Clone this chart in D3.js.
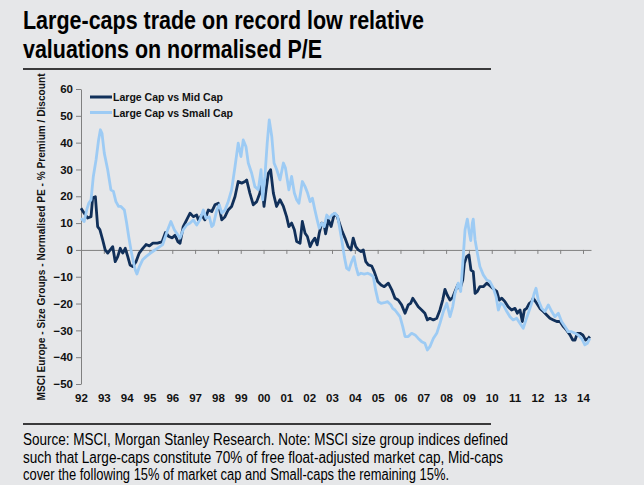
<!DOCTYPE html>
<html><head><meta charset="utf-8">
<script src="https://cdn.jsdelivr.net/npm/d3@7"></script>
<style>
html,body{margin:0;padding:0;background:#e6e7e9;}
svg{display:block;}
text{font-family:"Liberation Sans",Arial,sans-serif;}
</style></head><body>
<svg id="chart" width="644" height="485"></svg>
<script>
// ---------- data ----------
const titleLines = ["Large-caps trade on record low relative", "valuations on normalised P/E"];
const footerLines = [
  "Source: MSCI, Morgan Stanley Research. Note: MSCI size group indices defined",
  "such that Large-caps constitute 70% of free float-adjusted market cap, Mid-caps",
  "cover the following 15% of market cap and Small-caps the remaining 15%."
];
const yAxisTitle = "MSCI Europe - Size Groups - Normalised PE - % Premium / Discount";
const seriesNames = ["Large Cap vs Mid Cap", "Large Cap vs Small Cap"];
const xTickYears = [1992,1993,1994,1995,1996,1997,1998,1999,2000,2001,2002,2003,2004,2005,2006,2007,2008,2009,2010,2011,2012,2013,2014];
const xTickLabels = ["92","93","94","95","96","97","98","99","00","01","02","03","04","05","06","07","08","09","10","11","12","13","14"];
const yTicks = [60,50,40,30,20,10,0,-10,-20,-30,-40,-50];

// Large Cap vs Mid Cap (decimal year, % premium/discount)
const midT = [1992.00,1992.14,1992.29,1992.44,1992.51,1992.63,1992.73,1992.83,1992.95,1993.06,1993.17,1993.28,1993.39,1993.50,1993.61,1993.72,1993.83,1993.94,1994.05,1994.15,1994.27,1994.41,1994.55,1994.70,1994.85,1995.00,1995.15,1995.35,1995.55,1995.70,1995.85,1996.00,1996.12,1996.25,1996.34,1996.48,1996.63,1996.78,1996.92,1997.07,1997.14,1997.29,1997.43,1997.58,1997.73,1997.87,1998.02,1998.17,1998.31,1998.45,1998.60,1998.75,1998.89,1999.04,1999.19,1999.26,1999.40,1999.55,1999.70,1999.84,1999.92,2000.02,2000.11,2000.21,2000.31,2000.43,2000.57,2000.72,2000.87,2001.01,2001.11,2001.23,2001.35,2001.45,2001.60,2001.70,2001.82,2001.92,2002.04,2002.14,2002.25,2002.35,2002.44,2002.55,2002.66,2002.72,2002.84,2002.96,2003.10,2003.22,2003.35,2003.45,2003.57,2003.71,2003.83,2003.93,2004.04,2004.15,2004.27,2004.37,2004.48,2004.59,2004.74,2004.85,2005.00,2005.15,2005.29,2005.47,2005.62,2005.76,2005.90,2006.05,2006.20,2006.34,2006.45,2006.54,2006.64,2006.78,2006.93,2007.07,2007.18,2007.29,2007.44,2007.59,2007.73,2007.85,2007.95,2008.05,2008.17,2008.29,2008.39,2008.51,2008.61,2008.73,2008.80,2008.90,2009.00,2009.09,2009.19,2009.27,2009.37,2009.48,2009.63,2009.78,2009.89,2010.04,2010.22,2010.33,2010.44,2010.58,2010.72,2010.87,2011.02,2011.12,2011.24,2011.34,2011.43,2011.53,2011.65,2011.75,2011.82,2011.97,2012.11,2012.26,2012.41,2012.55,2012.70,2012.85,2012.99,2013.14,2013.28,2013.43,2013.55,2013.65,2013.75,2013.87,2013.99,2014.11,2014.23,2014.30];
const midV = [15.5,13.7,11.9,12.4,19.4,19.8,8.7,7.5,3.7,0.0,-1.2,0.0,1.2,-4.4,-2.5,0.6,-1.2,0.6,-2.5,-5.6,-6.2,-4.4,-1.2,0.5,2.0,1.5,2.5,2.5,3.0,6.5,5.0,4.5,5.5,3.0,2.5,8.7,11.2,13.7,12.4,13.0,11.2,13.0,11.2,14.9,14.3,16.8,17.4,11.2,12.4,14.9,16.2,19.9,25.5,24.9,25.5,26.1,21.2,16.8,18.0,21.2,25.5,16.2,22.4,28.6,29.9,21.2,16.2,18.7,16.2,12.4,8.7,10.0,7.5,3.1,2.5,10.6,6.2,5.0,1.2,3.1,4.4,1.9,6.2,10.0,9.3,6.0,11.2,8.7,13.4,12.7,9.3,6.8,4.4,1.2,0.0,4.4,1.2,0.0,-0.6,0.0,-4.4,-5.6,-6.0,-8.1,-11.8,-13.1,-13.7,-12.4,-14.9,-18.0,-18.7,-20.5,-23.6,-20.5,-19.9,-18.0,-19.3,-21.2,-22.4,-23.6,-26.1,-25.5,-26.1,-25.5,-22.4,-18.7,-14.7,-16.8,-18.7,-17.7,-15.5,-13.1,-14.5,-11.2,-5.0,-2.5,-1.9,-7.5,-8.1,-16.2,-15.5,-13.7,-13.7,-12.4,-13.1,-14.3,-15.5,-18.7,-18.0,-19.3,-21.2,-22.4,-21.8,-23.6,-22.4,-26.7,-22.4,-21.8,-19.9,-19.3,-18.0,-19.9,-21.8,-23.0,-24.3,-25.5,-26.1,-26.7,-26.7,-28.6,-29.9,-31.7,-33.6,-33.6,-31.1,-31.1,-31.7,-33.6,-33.0,-32.3];

// Large Cap vs Small Cap (decimal year, % premium/discount)
const smallT = [1992.00,1992.14,1992.25,1992.34,1992.44,1992.54,1992.66,1992.77,1992.85,1992.92,1993.02,1993.17,1993.31,1993.42,1993.53,1993.65,1993.75,1993.90,1994.00,1994.09,1994.19,1994.29,1994.38,1994.45,1994.56,1994.70,1994.85,1995.00,1995.14,1995.36,1995.58,1995.80,1995.94,1996.09,1996.24,1996.34,1996.48,1996.63,1996.78,1996.92,1997.07,1997.21,1997.36,1997.48,1997.62,1997.73,1997.80,1997.95,1998.06,1998.17,1998.31,1998.45,1998.60,1998.75,1998.89,1999.01,1999.11,1999.23,1999.33,1999.48,1999.62,1999.77,1999.89,1999.96,2000.06,2000.16,2000.25,2000.36,2000.46,2000.58,2000.72,2000.87,2000.96,2001.11,2001.23,2001.35,2001.45,2001.55,2001.70,2001.82,2001.93,2002.04,2002.14,2002.25,2002.35,2002.44,2002.55,2002.66,2002.77,2002.88,2002.99,2003.13,2003.25,2003.35,2003.45,2003.54,2003.64,2003.74,2003.86,2003.96,2004.05,2004.15,2004.27,2004.41,2004.56,2004.71,2004.81,2004.91,2005.03,2005.15,2005.29,2005.44,2005.58,2005.66,2005.76,2005.98,2006.10,2006.20,2006.34,2006.49,2006.64,2006.78,2006.93,2007.07,2007.18,2007.29,2007.44,2007.59,2007.73,2007.88,2008.03,2008.17,2008.29,2008.39,2008.53,2008.64,2008.73,2008.83,2008.93,2009.02,2009.08,2009.15,2009.19,2009.27,2009.37,2009.48,2009.63,2009.78,2009.92,2010.07,2010.19,2010.29,2010.39,2010.51,2010.66,2010.80,2010.94,2011.09,2011.24,2011.38,2011.50,2011.60,2011.75,2011.86,2011.94,2012.04,2012.19,2012.33,2012.48,2012.63,2012.77,2012.92,2013.06,2013.21,2013.35,2013.50,2013.65,2013.79,2013.94,2014.08,2014.19,2014.30];
const smallV = [11.8,10.6,14.9,17.4,18.7,27.4,33.6,41.0,44.8,43.5,36.1,29.9,22.4,21.8,18.0,16.2,16.2,14.9,10.0,5.0,0.0,-4.4,-7.5,-9.0,-6.2,-3.7,-2.5,-1.5,-0.6,0.7,2.0,7.5,10.6,7.5,5.6,4.4,7.5,9.3,10.0,11.2,9.3,11.2,14.9,11.8,12.4,8.7,9.3,14.9,16.8,13.7,14.9,18.0,22.4,31.1,39.8,34.8,41.0,38.5,32.4,28.6,23.6,22.4,29.9,18.7,27.4,39.8,48.5,42.3,32.4,29.9,26.1,32.4,30.5,22.4,27.4,21.2,18.7,17.4,25.5,23.6,21.2,18.0,19.3,14.9,11.2,8.1,10.0,8.7,13.0,11.8,13.0,13.7,12.4,7.5,2.5,-2.5,-6.8,-7.5,-4.4,-2.5,-6.2,-9.3,-8.7,-9.0,-8.7,-9.3,-10.0,-14.9,-19.3,-19.9,-19.7,-19.3,-20.5,-21.8,-22.4,-24.9,-28.6,-32.3,-32.3,-31.1,-31.7,-33.0,-34.2,-34.8,-37.3,-36.1,-33.0,-31.1,-27.4,-23.0,-19.9,-24.9,-21.2,-16.2,-12.4,-15.5,-5.0,7.5,11.5,6.2,3.5,10.0,11.5,3.7,-1.2,-6.2,-9.3,-11.2,-11.8,-14.3,-17.4,-22.4,-19.9,-20.5,-23.0,-24.9,-26.1,-25.5,-27.4,-29.2,-26.1,-23.6,-19.9,-16.2,-14.3,-18.7,-21.8,-23.0,-20.5,-23.0,-24.9,-23.6,-26.7,-28.6,-30.5,-30.5,-31.1,-31.7,-33.0,-35.4,-34.8,-33.0];

const colors = ["#11305a", "#9dcbf4"];

// ---------- drawing ----------
const svg = d3.select("#chart");
svg.append("rect").attr("width",644).attr("height",485).attr("fill","#e6e7e9");

// title
svg.append("text").attr("x",23).attr("y",29).attr("font-size",25).attr("font-weight","bold")
  .attr("fill","#000").attr("textLength",401).attr("lengthAdjust","spacingAndGlyphs").text(titleLines[0]);
svg.append("text").attr("x",23).attr("y",58).attr("font-size",25).attr("font-weight","bold")
  .attr("fill","#000").attr("textLength",299).attr("lengthAdjust","spacingAndGlyphs").text(titleLines[1]);
svg.append("line").attr("x1",23).attr("x2",491).attr("y1",69).attr("y2",69).attr("stroke","#000").attr("stroke-width",1.5);

// footer
svg.append("line").attr("x1",23).attr("x2",491).attr("y1",424).attr("y2",424).attr("stroke","#000").attr("stroke-width",1.5);
const footLens = [485, 480, 426];
footerLines.forEach((t,i)=>{
  svg.append("text").attr("x",23).attr("y",445+i*17.5).attr("font-size",16).attr("fill","#000")
    .attr("textLength",footLens[i]).attr("lengthAdjust","spacingAndGlyphs").text(t);
});

// scales
const x = d3.scaleLinear().domain([1992, 2014.35]).range([81, 591]);
const y = d3.scaleLinear().domain([-50, 60]).range([384, 89]);

// y axis
const yAxis = svg.append("g").attr("transform","translate(81,0)")
  .call(d3.axisLeft(y).tickValues(yTicks).tickSize(5).tickSizeOuter(0).tickPadding(3));
yAxis.select(".domain").attr("stroke","#808080");
yAxis.selectAll(".tick line").attr("stroke","#808080");
yAxis.selectAll(".tick text").attr("font-size",11.5).attr("font-weight","bold").attr("fill","#111")
  .attr("font-family","'Liberation Sans',Arial,sans-serif");

// zero-line axis with ticks
const zAxis = svg.append("g").attr("transform",`translate(0,${y(0)})`)
  .call(d3.axisBottom(x).tickValues(xTickYears.slice(1)).tickSize(4).tickSizeOuter(0).tickFormat(""));
zAxis.select(".domain").attr("stroke","#808080");
zAxis.selectAll(".tick line").attr("stroke","#808080");

// x labels at bottom
const xLab = svg.append("g").attr("transform","translate(0,394)")
  .call(d3.axisBottom(x).tickValues(xTickYears).tickSize(0).tickPadding(0)
    .tickFormat((d,i)=>xTickLabels[i]));
xLab.select(".domain").remove();
xLab.selectAll(".tick text").attr("font-size",11.5).attr("font-weight","bold").attr("fill","#111")
  .attr("font-family","'Liberation Sans',Arial,sans-serif");

// y axis title
svg.append("text").attr("transform","translate(45,237) rotate(-90)").attr("text-anchor","middle")
  .attr("font-size",10.5).attr("font-weight","bold").attr("fill","#111")
  .attr("textLength",327).attr("lengthAdjust","spacingAndGlyphs").text(yAxisTitle);

// lines
const mid = midT.map((t,i)=>({t, v: midV[i]}));
const small = smallT.map((t,i)=>({t, v: smallV[i]}));
const line = d3.line().x(d=>x(d.t)).y(d=>y(d.v));
svg.append("path").datum(mid).attr("d",line).attr("fill","none")
  .attr("stroke",colors[0]).attr("stroke-width",2.8).attr("stroke-linejoin","round");
svg.append("path").datum(small).attr("d",line).attr("fill","none")
  .attr("stroke",colors[1]).attr("stroke-width",2.8).attr("stroke-linejoin","round");

// legend
const legLens = [110, 120];
seriesNames.forEach((n,i)=>{
  const ly = 97 + i*15.5;
  svg.append("line").attr("x1",90).attr("x2",112).attr("y1",ly).attr("y2",ly)
    .attr("stroke",colors[i]).attr("stroke-width",3);
  svg.append("text").attr("x",113).attr("y",ly+4).attr("font-size",11.5).attr("font-weight","bold")
    .attr("fill","#111").attr("textLength",legLens[i]).attr("lengthAdjust","spacingAndGlyphs").text(n);
});
</script>
</body></html>
